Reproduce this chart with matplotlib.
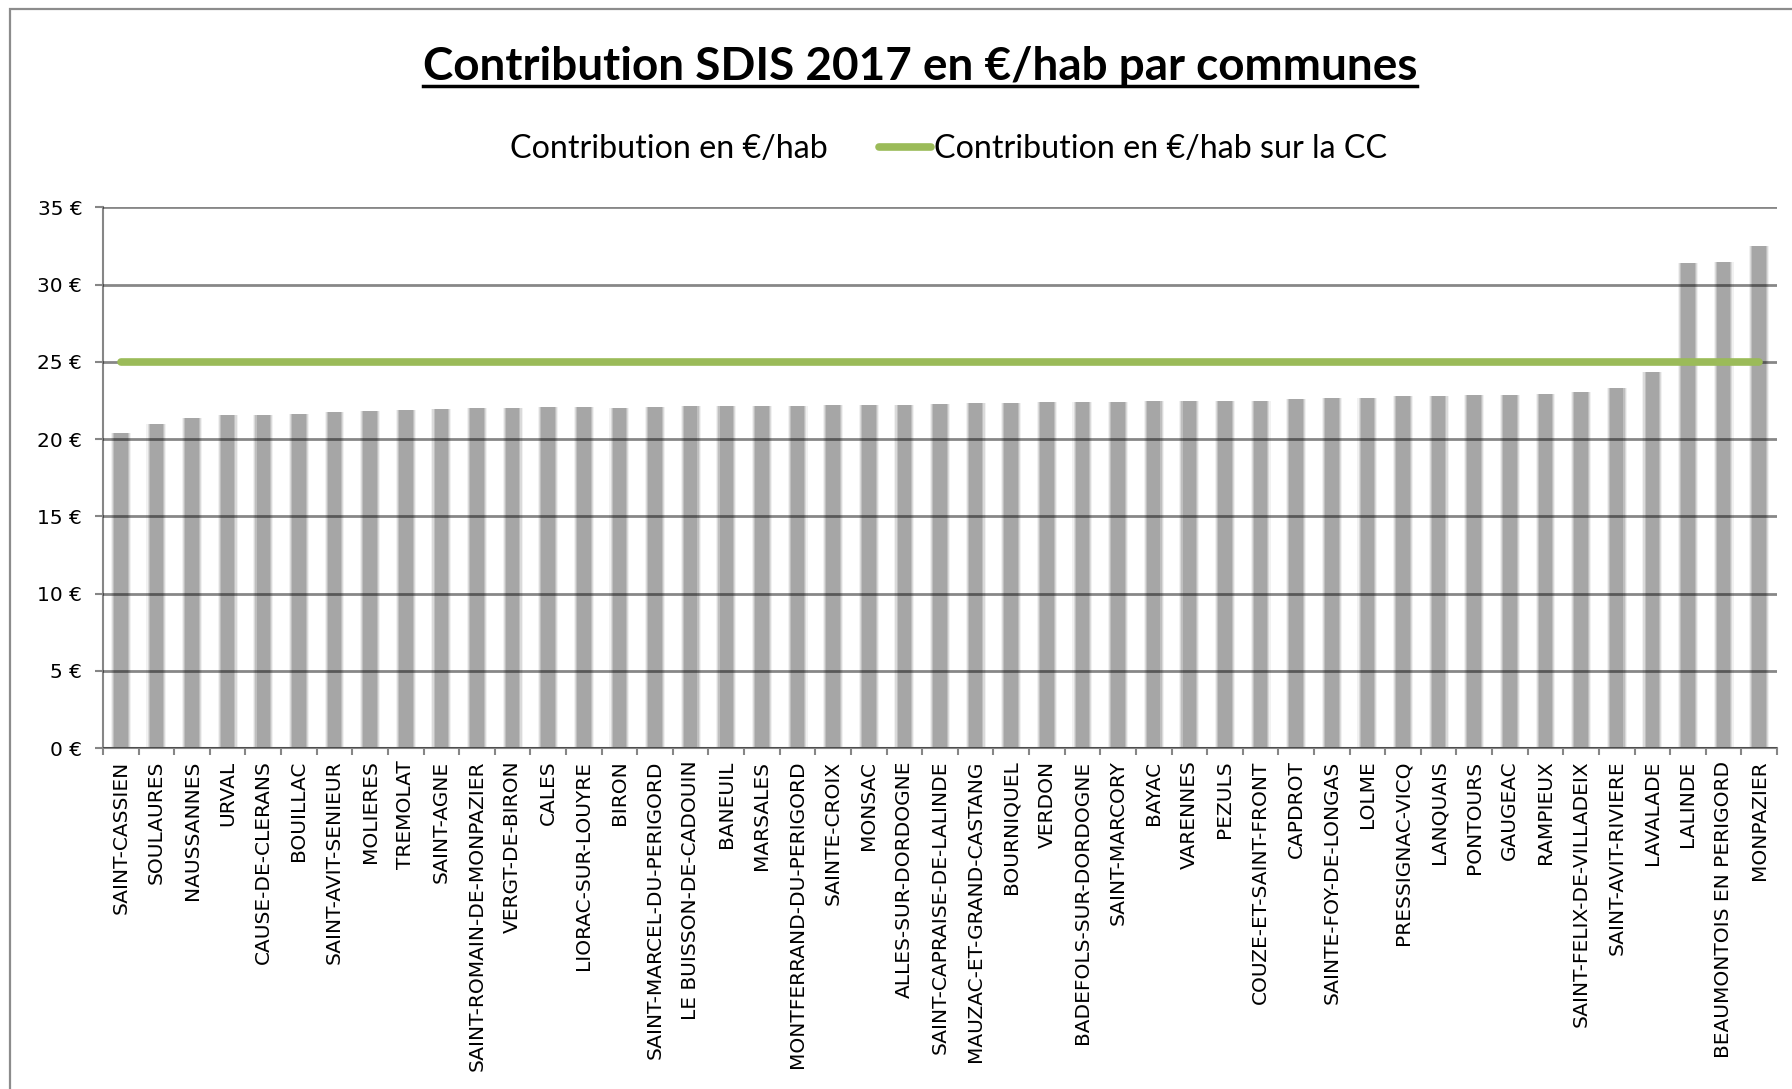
import matplotlib
matplotlib.use("Agg")
import matplotlib.pyplot as plt
from matplotlib.lines import Line2D
from matplotlib.patches import Patch, Rectangle
import numpy as np

communes = ['SAINT-CASSIEN', 'SOULAURES', 'NAUSSANNES', 'URVAL', 'CAUSE-DE-CLERANS',
            'BOUILLAC', 'SAINT-AVIT-SENIEUR', 'MOLIERES', 'TREMOLAT', 'SAINT-AGNE',
            'SAINT-ROMAIN-DE-MONPAZIER', 'VERGT-DE-BIRON', 'CALES', 'LIORAC-SUR-LOUYRE',
            'BIRON', 'SAINT-MARCEL-DU-PERIGORD', 'LE BUISSON-DE-CADOUIN', 'BANEUIL',
            'MARSALES', 'MONTFERRAND-DU-PERIGORD', 'SAINTE-CROIX', 'MONSAC',
            'ALLES-SUR-DORDOGNE', 'SAINT-CAPRAISE-DE-LALINDE', 'MAUZAC-ET-GRAND-CASTANG',
            'BOURNIQUEL', 'VERDON', 'BADEFOLS-SUR-DORDOGNE', 'SAINT-MARCORY', 'BAYAC',
            'VARENNES', 'PEZULS', 'COUZE-ET-SAINT-FRONT', 'CAPDROT', 'SAINTE-FOY-DE-LONGAS',
            'LOLME', 'PRESSIGNAC-VICQ', 'LANQUAIS', 'PONTOURS', 'GAUGEAC', 'RAMPIEUX',
            'SAINT-FELIX-DE-VILLADEIX', 'SAINT-AVIT-RIVIERE', 'LAVALADE', 'LALINDE',
            'BEAUMONTOIS EN PERIGORD', 'MONPAZIER']

contribution = [20.37, 20.95, 21.36, 21.55, 21.57, 21.62, 21.76, 21.8, 21.87, 21.93,
                22.0, 22.03, 22.06, 22.09, 22.04, 22.09, 22.13, 22.13, 22.17, 22.17,
                22.19, 22.19, 22.24, 22.28, 22.32, 22.37, 22.39, 22.39, 22.41, 22.45,
                22.45, 22.49, 22.5, 22.58, 22.68, 22.68, 22.77, 22.79, 22.88, 22.88,
                22.94, 23.05, 23.3, 24.33, 31.4, 31.5, 32.5]

moyenne_cc = 25.0
yticks = [0, 5, 10, 15, 20, 25, 30, 35]

grey = '#868686'
bar_grey = '#a6a6a6'
green = '#9bbb59'

plt.rcParams['font.family'] = ['DejaVu Sans']

fig = plt.figure(figsize=(17.92, 10.89), dpi=100)
ax = fig.add_axes([103 / 1792, 1 - 748 / 1089, (1777 - 103) / 1792, (748 - 207.5) / 1089])

x = np.arange(len(communes))

# soft edged bars: a few stacked layers
for w, a in [(0.56, 0.15), (0.50, 0.3), (0.44, 0.5), (0.38, 1.0)]:
    ax.bar(x, contribution, width=w, color=bar_grey, alpha=a, linewidth=0, zorder=2)

ax.plot([x[0], x[-1]], [moyenne_cc] * 2, color=green, linewidth=5.5,
        solid_capstyle='round', zorder=4)

ax.set_xlim(-0.5, len(communes) - 0.5)
ax.set_ylim(0, 35)
ax.set_yticks(yticks)
ax.set_yticklabels([f'{v} €' for v in yticks])
ax.set_xticks(x)
ax.set_xticklabels(communes, rotation=90)
ax.set_xticks(np.arange(-0.5, len(communes)), minor=True)
ax.tick_params(axis='x', which='major', length=0, pad=9, labelsize=14.5)
ax.tick_params(axis='x', which='minor', length=5, color=grey, width=1.5)
ax.tick_params(axis='y', length=6, color=grey, width=1.5, pad=9, labelsize=14.5)

ax.yaxis.grid(True, color='black', alpha=0.47, linewidth=2, zorder=3)
ax.set_axisbelow(False)
for s in ['top', 'right']:
    ax.spines[s].set_visible(False)
for s in ['left', 'bottom']:
    ax.spines[s].set_color(grey)
    ax.spines[s].set_linewidth(1.5)

# chart area border
fig.patches.append(Rectangle((10 / 1792, -0.1), 1.2, 1.1 - 9 / 1089, transform=fig.transFigure,
                             fill=False, edgecolor='#8c8c8c', linewidth=1.6))

title = fig.text(920 / 1792, 1 - 67 / 1089, 'Contribution SDIS 2017 en €/hab par communes',
                 ha='center', va='center', fontsize=33, fontweight='bold',
                 family=['Lato', 'DejaVu Sans'])

handles = [Patch(facecolor='none', edgecolor='none'),
           Line2D([], [], color=green, linewidth=5.5, solid_capstyle='round')]
labels = ['Contribution en €/hab', 'Contribution en €/hab sur la CC']
fig.legend(handles, labels, loc='center', bbox_to_anchor=(921 / 1792, 1 - 149 / 1089),
           ncol=2, frameon=False, handlelength=1.6, handletextpad=0.1, columnspacing=1.6,
           prop={'family': ['Lato', 'DejaVu Sans'], 'size': 23.2})

# underline the title
fig.canvas.draw()
bb = title.get_window_extent().transformed(fig.transFigure.inverted())
fig.add_artist(Line2D([bb.x0, bb.x1], [bb.y0 + 0.002] * 2, transform=fig.transFigure,
                      color='black', linewidth=2.5))

fig.savefig('out.png', dpi=100)
